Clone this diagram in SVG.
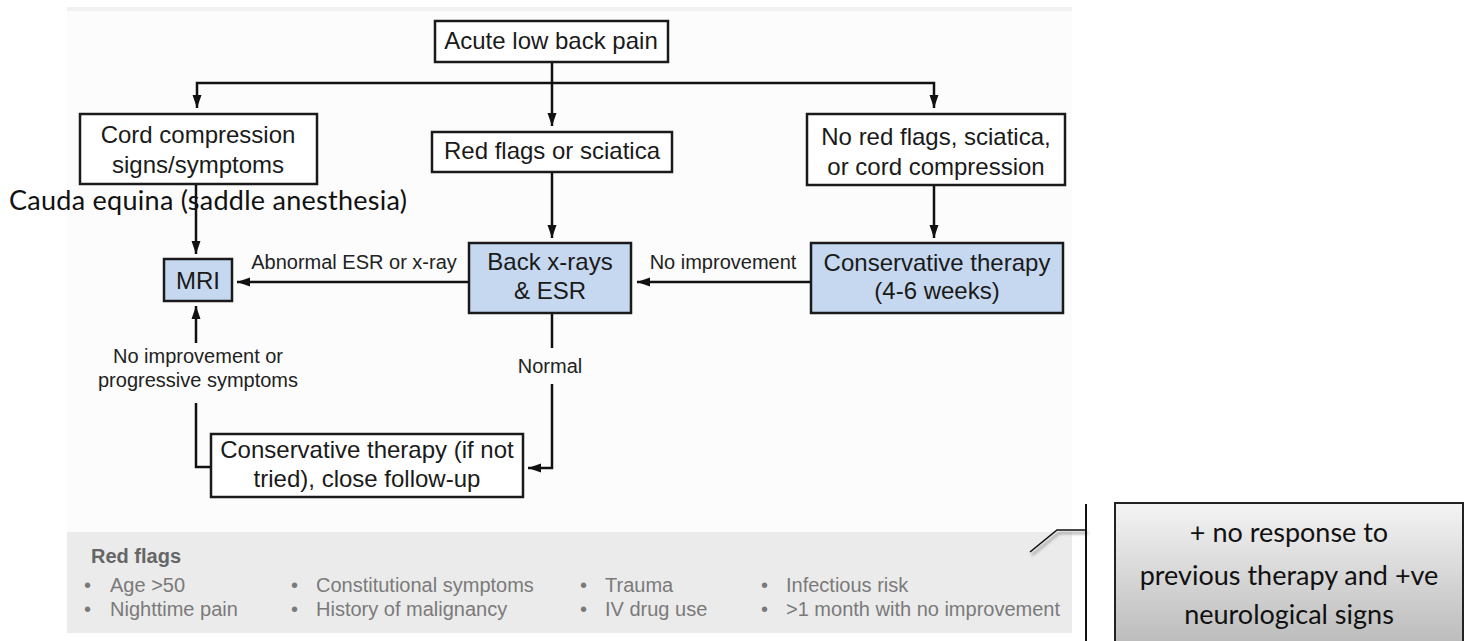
<svg xmlns="http://www.w3.org/2000/svg" width="1467" height="641" viewBox="0 0 1467 641">
  <defs>
    <marker id="arrow" markerUnits="userSpaceOnUse" markerWidth="14" markerHeight="10" refX="13" refY="5" orient="auto">
      <path d="M0,0.5 L13,5 L0,9.5 z" fill="#111"/>
    </marker>
    <linearGradient id="calloutFill" x1="0" y1="0" x2="0" y2="1">
      <stop offset="0" stop-color="#f4f4f4"/>
      <stop offset="1" stop-color="#b4b4b4"/>
    </linearGradient>
    <filter id="soft" x="-20%" y="-20%" width="140%" height="140%">
      <feGaussianBlur stdDeviation="1.5"/>
    </filter>
  </defs>
  <style>
    .box { fill: #ffffff; stroke: #1a1a1a; stroke-width: 2.5; }
    .blue { fill: #c6d8ef; stroke: #1a1a1a; stroke-width: 2.5; }
    .t { font-family: "Liberation Sans", Arial, sans-serif; font-size: 24px; fill: #1a1a1a; text-anchor: middle; }
    .lbl { font-family: "Liberation Sans", Arial, sans-serif; font-size: 20px; fill: #222; text-anchor: middle; }
    .conn path { fill: none; stroke: #111; stroke-width: 2.5; }
    .arr { marker-end: url(#arrow); }
    .rf { font-family: "Liberation Sans", Arial, sans-serif; font-size: 20px; fill: #7a7a7a; }
    .rfh { font-family: "Liberation Sans", Arial, sans-serif; font-size: 20px; font-weight: bold; fill: #666; }
    .cal { font-family: Lato, "Open Sans", sans-serif; font-size: 27px; fill: #111; }
  </style>

  <!-- page and panels -->
  <rect x="0" y="0" width="1467" height="641" fill="#ffffff"/>
  <g id="panel">
    <rect x="67" y="7" width="1005" height="525" fill="#fcfcfc"/>
    <rect x="67" y="7" width="1005" height="4" fill="#f1f1f1"/>
    <rect x="67" y="532" width="1005" height="101" fill="#ebebeb"/>
  </g>

  <!-- connectors -->
  <g id="connectors" class="conn">
    <path class="arr" d="M552,62 V126"/>
    <path class="arr" d="M552,83 H197 V108"/>
    <path class="arr" d="M552,83 H934 V108"/>
    <path class="arr" d="M552,172 V238"/>
    <path class="arr" d="M934,185 V238"/>
    <path class="arr" d="M196,184 V254"/>
    <path class="arr" d="M469,282 H237"/>
    <path class="arr" d="M811,282 H637"/>
    <path d="M552,313 V348"/>
    <path class="arr" d="M552,384 V468 H528"/>
    <path d="M211,467 H196 V403"/>
    <path class="arr" d="M196,343 V306"/>
  </g>

  <!-- edge labels -->
  <g id="labels">
    <text class="lbl" x="354" y="269">Abnormal ESR or x-ray</text>
    <text class="lbl" x="723" y="269">No improvement</text>
    <text class="lbl" x="550" y="373">Normal</text>
    <text class="lbl" x="198" y="363">No improvement or</text>
    <text class="lbl" x="198" y="387">progressive symptoms</text>
  </g>

  <!-- nodes -->
  <g id="acute">
    <rect class="box" x="435" y="21" width="233" height="41"/>
    <text class="t" x="551" y="49">Acute low back pain</text>
  </g>
  <g id="cord">
    <rect class="box" x="80" y="114" width="237" height="70"/>
    <text class="t" x="198" y="143">Cord compression</text>
    <text class="t" x="198" y="173">signs/symptoms</text>
  </g>
  <g id="redflags-node">
    <rect class="box" x="432" y="132" width="240" height="40"/>
    <text class="t" x="552" y="159">Red flags or sciatica</text>
  </g>
  <g id="noredflags">
    <rect class="box" x="807" y="114" width="258" height="71"/>
    <text class="t" x="936" y="145">No red flags, sciatica,</text>
    <text class="t" x="936" y="175">or cord compression</text>
  </g>
  <g id="mri">
    <rect class="blue" x="164" y="259" width="68" height="42"/>
    <text class="t" x="198" y="289">MRI</text>
  </g>
  <g id="xray">
    <rect class="blue" x="469" y="243" width="162" height="70"/>
    <text class="t" x="550" y="270">Back x-rays</text>
    <text class="t" x="550" y="299">&amp; ESR</text>
  </g>
  <g id="conservative">
    <rect class="blue" x="811" y="243" width="252" height="70"/>
    <text class="t" x="937" y="271">Conservative therapy</text>
    <text class="t" x="937" y="299">(4-6 weeks)</text>
  </g>
  <g id="followup">
    <rect class="box" x="211" y="434" width="312" height="63"/>
    <text class="t" x="367" y="458">Conservative therapy (if not</text>
    <text class="t" x="367" y="487">tried), close follow-up</text>
  </g>

  <!-- annotation on the cord compression branch -->
  <g id="cauda">
    <text class="cal" x="9" y="210" textLength="398">Cauda equina (saddle anesthesia)</text>
  </g>

  <!-- red flags legend -->
  <g id="legend">
    <text class="rfh" x="91" y="563">Red flags</text>
    <g class="rf">
      <text x="84" y="592">•</text><text x="110" y="592">Age &gt;50</text>
      <text x="84" y="616">•</text><text x="110" y="616">Nighttime pain</text>
      <text x="291" y="592">•</text><text x="316" y="592">Constitutional symptoms</text>
      <text x="291" y="616">•</text><text x="316" y="616">History of malignancy</text>
      <text x="580" y="592">•</text><text x="605" y="592">Trauma</text>
      <text x="580" y="616">•</text><text x="605" y="616">IV drug use</text>
      <text x="761" y="592">•</text><text x="786" y="592">Infectious risk</text>
      <text x="761" y="616">•</text><text x="786" y="616">&gt;1 month with no improvement</text>
    </g>
  </g>

  <!-- line callout -->
  <g id="callout">
    <path d="M1088,533 H1059 L1032,555" fill="none" stroke="#999" stroke-width="2" filter="url(#soft)"/>
    <path d="M1086,504 V641" fill="none" stroke="#111" stroke-width="2"/>
    <path d="M1086,530 H1057 L1030,552" fill="none" stroke="#111" stroke-width="1.6"/>
    <rect x="1115" y="503" width="348" height="160" fill="url(#calloutFill)" stroke="#222" stroke-width="2"/>
    <text class="cal" x="1289" y="542" text-anchor="middle">+ no response to</text>
    <text class="cal" x="1289" y="585" text-anchor="middle">previous therapy and +ve</text>
    <text class="cal" x="1289" y="624" text-anchor="middle">neurological signs</text>
  </g>
</svg>
